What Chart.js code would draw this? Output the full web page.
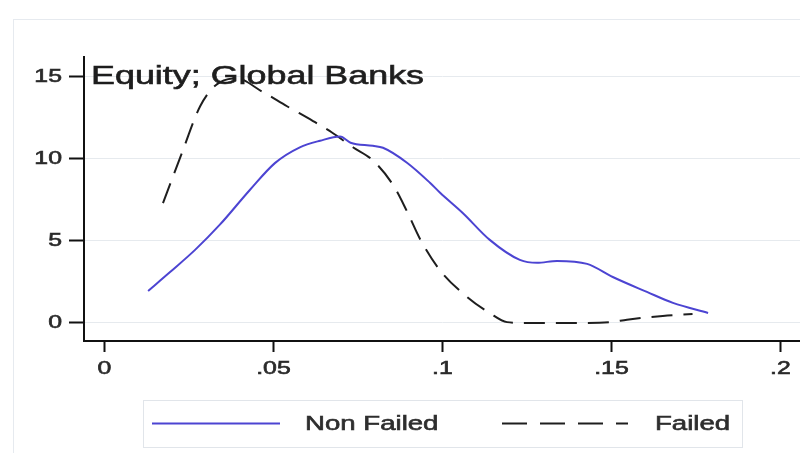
<!DOCTYPE html>
<html>
<head>
<meta charset="utf-8">
<script src="https://cdn.jsdelivr.net/npm/chart.js@4/dist/chart.umd.min.js"></script>
<style>
  html, body { margin: 0; padding: 0; background: #ffffff; }
  #wrap { width: 800px; height: 453px; position: relative; }
</style>
</head>
<body>
<div id="wrap"><canvas id="c" width="800" height="453"></canvas></div>
<script>
// Kernel density of bank equity ratios, failed vs non-failed global banks
const chartTitle = 'Equity; Global Banks';
const seriesNames = ['Non Failed', 'Failed'];

const xTickValues = [0, 0.05, 0.1, 0.15, 0.2];
const xTickLabels = ['0', '.05', '.1', '.15', '.2'];
const yTickValues = [0, 5, 10, 15];
const yTickLabels = ['0', '5', '10', '15'];

const nonFailedX = [0.0129, 0.0194, 0.0268, 0.0342, 0.043, 0.0505, 0.0578, 0.0638, 0.0697, 0.0728,
                    0.0794, 0.0824, 0.0895, 0.0963, 0.0993, 0.106, 0.114, 0.1229, 0.128, 0.1339,
                    0.1428, 0.1504, 0.1605, 0.1682, 0.1786];
const nonFailedY = [1.95, 3.1, 4.45, 6.0, 8.1, 9.75, 10.7, 11.1, 11.35, 10.98,
                    10.79, 10.67, 9.76, 8.54, 7.93, 6.7, 5.06, 3.84, 3.66, 3.78,
                    3.6, 2.8, 1.89, 1.22, 0.61];

const failedX = [0.0173, 0.0228, 0.0283, 0.033, 0.039, 0.0466, 0.054, 0.0617, 0.0673, 0.0735,
                 0.0794, 0.0854, 0.0895, 0.0934, 0.0993, 0.1072, 0.114, 0.1191, 0.125, 0.14,
                 0.1497, 0.1546, 0.1652, 0.174];
const failedY = [7.3, 10.3, 13.2, 14.5, 14.9, 14.1, 13.2, 12.3, 11.6, 10.7,
                 9.9, 8.4, 6.8, 5.1, 3.2, 1.6, 0.6, 0.05, 0, 0,
                 0.05, 0.2, 0.43, 0.55];

const toPoints = (xs, ys) => xs.map((x, i) => ({ x: x, y: ys[i] }));

const FONT = '"Liberation Sans", Arial, sans-serif';
const STRETCH = 1.38;   // text is drawn horizontally widened
const BLUE = '#4c44d2';
const INK = '#1e1e1e';

function stretchedText(ctx, text, x, y, align, size, color) {
  ctx.save();
  ctx.font = size + 'px ' + FONT;
  ctx.fillStyle = color;
  ctx.strokeStyle = color;
  ctx.lineWidth = 0.6;
  ctx.textBaseline = 'middle';
  ctx.textAlign = 'left';
  const w = ctx.measureText(text).width * STRETCH;
  const left = align === 'left' ? x : (align === 'right' ? x - w : x - w / 2);
  ctx.translate(left, y);
  ctx.scale(STRETCH, 1);
  ctx.fillText(text, 0, 0);
  ctx.strokeText(text, 0, 0);
  ctx.restore();
}

const decorations = {
  id: 'decorations',
  beforeDraw(chart) {
    const ctx = chart.ctx;
    ctx.save();
    ctx.fillStyle = '#ffffff';
    ctx.fillRect(0, 0, chart.width, chart.height);
    ctx.strokeStyle = '#e6eaef';
    ctx.lineWidth = 1;
    ctx.strokeRect(13.5, 19.5, chart.width + 20, chart.height + 20);
    ctx.restore();
  },
  afterDraw(chart) {
    const ctx = chart.ctx;
    const xs = chart.scales.x, ys = chart.scales.y;

    // tick labels
    yTickValues.forEach((v, i) => {
      stretchedText(ctx, yTickLabels[i], 62, ys.getPixelForValue(v), 'right', 18, '#2a2a2a');
    });
    xTickValues.forEach((v, i) => {
      stretchedText(ctx, xTickLabels[i], xs.getPixelForValue(v), 369, 'center', 18, '#2a2a2a');
    });

    // title inside the plot region
    stretchedText(ctx, chartTitle, 91, 77, 'left', 26, INK);

    // legend
    const ds = chart.data.datasets;
    ctx.save();
    ctx.strokeStyle = '#e1e5ea';
    ctx.lineWidth = 1;
    ctx.strokeRect(143.5, 400.5, 599, 47);

    ctx.lineWidth = 2;
    ctx.strokeStyle = ds[0].borderColor;
    ctx.setLineDash([]);
    ctx.beginPath(); ctx.moveTo(152, 423.5); ctx.lineTo(280, 423.5); ctx.stroke();

    ctx.strokeStyle = ds[1].borderColor;
    ctx.setLineDash([25, 13]);
    ctx.beginPath(); ctx.moveTo(502, 423.5); ctx.lineTo(628, 423.5); ctx.stroke();
    ctx.restore();

    stretchedText(ctx, ds[0].label, 305, 424, 'left', 20, '#2e2e2e');
    stretchedText(ctx, ds[1].label, 655, 424, 'left', 20, '#2e2e2e');
  }
};

new Chart(document.getElementById('c'), {
  type: 'scatter',
  data: {
    datasets: [
      {
        label: seriesNames[0],
        data: toPoints(nonFailedX, nonFailedY),
        showLine: true,
        borderColor: BLUE,
        borderWidth: 2,
        pointRadius: 0,
        cubicInterpolationMode: 'monotone',
        fill: false
      },
      {
        label: seriesNames[1],
        data: toPoints(failedX, failedY),
        showLine: true,
        borderColor: INK,
        borderWidth: 2,
        borderDash: [21, 11],
        pointRadius: 0,
        cubicInterpolationMode: 'monotone',
        fill: false
      }
    ]
  },
  options: {
    responsive: false,
    animation: false,
    layout: { padding: { top: 57, left: 0, right: 0, bottom: 0 } },
    plugins: {
      legend: { display: false },
      title: { display: false },
      tooltip: { enabled: false }
    },
    scales: {
      x: {
        type: 'linear',
        min: -0.00607,
        max: 0.2058,
        afterBuildTicks: s => { s.ticks = xTickValues.map(v => ({ value: v })); },
        afterFit: s => { s.height = 112; },
        ticks: { display: false },
        grid: {
          drawOnChartArea: false,
          drawTicks: true,
          tickLength: 11,
          tickColor: '#111',
          tickWidth: 2
        },
        border: { display: true, color: '#111', width: 2 }
      },
      y: {
        type: 'linear',
        min: -1.1,
        max: 16.2,
        afterBuildTicks: s => { s.ticks = yTickValues.map(v => ({ value: v })); },
        afterFit: s => { s.width = 84; },
        ticks: { display: false },
        grid: {
          drawOnChartArea: true,
          color: '#e6eaee',
          lineWidth: 1,
          drawTicks: true,
          tickLength: 15,
          tickColor: '#111',
          tickWidth: 2
        },
        border: { display: true, color: '#111', width: 2 }
      }
    }
  },
  plugins: [decorations]
});
</script>
</body>
</html>
